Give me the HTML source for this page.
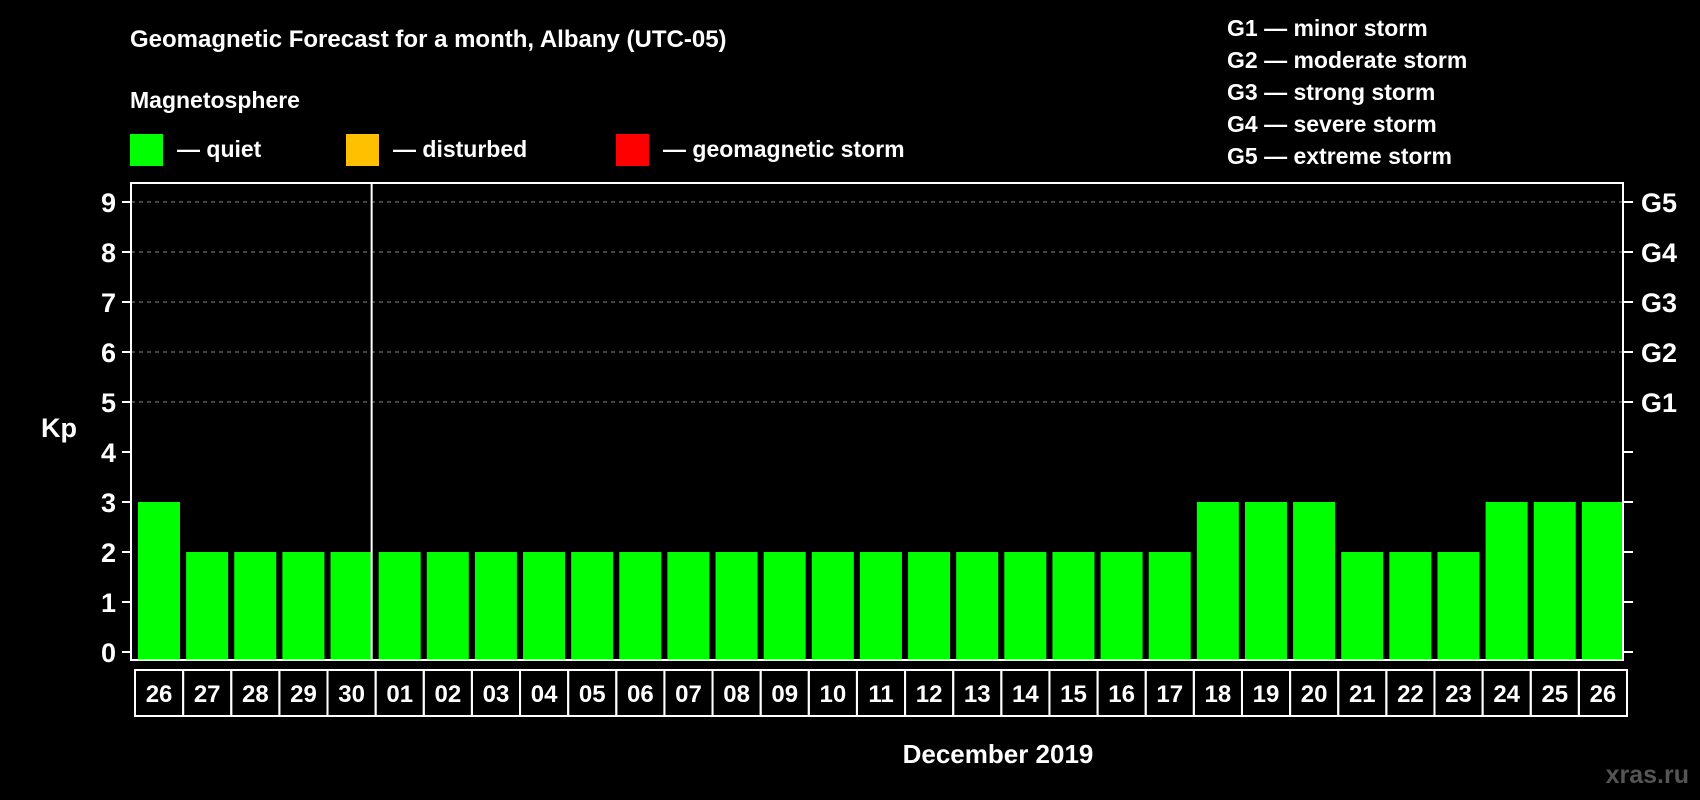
<!DOCTYPE html>
<html><head><meta charset="utf-8"><style>
html,body{margin:0;padding:0;background:#000;width:1700px;height:800px;overflow:hidden}
svg{display:block;font-family:"Liberation Sans",Arial,sans-serif;font-weight:bold}
</style></head><body>
<svg id="chart" width="1700" height="800" viewBox="0 0 1700 800" xmlns="http://www.w3.org/2000/svg">
<rect width="1700" height="800" fill="#000"/>
<text x="130" y="47" fill="#fff" font-size="24">Geomagnetic Forecast for a month, Albany (UTC-05)</text>
<text x="130" y="108" fill="#fff" font-size="23">Magnetosphere</text>
<rect x="130" y="134" width="33" height="32" fill="#00ff00"/>
<text x="177" y="157" fill="#fff" font-size="23">— quiet</text>
<rect x="346" y="134" width="33" height="32" fill="#ffc000"/>
<text x="393" y="157" fill="#fff" font-size="23">— disturbed</text>
<rect x="616" y="134" width="33" height="32" fill="#ff0000"/>
<text x="663" y="157" fill="#fff" font-size="23">— geomagnetic storm</text>
<g fill="#fff" font-size="23">
<text x="1227" y="36">G1 — minor storm</text>
<text x="1227" y="68">G2 — moderate storm</text>
<text x="1227" y="100">G3 — strong storm</text>
<text x="1227" y="132">G4 — severe storm</text>
<text x="1227" y="164">G5 — extreme storm</text>
</g>
<text x="41" y="437" fill="#fff" font-size="27">Kp</text>
<text x="998" y="763" fill="#fff" font-size="26" text-anchor="middle">December 2019</text>
<text x="1689" y="783" fill="#555" font-size="25" text-anchor="end">xras.ru</text>
<g id="grid"></g><g id="bars"></g><g id="labels"></g>
<rect x="131" y="183" width="1492" height="477" fill="none" stroke="#fff" stroke-width="2"/>
<g id="axes"></g>
</svg>
<script>
const days = ["26","27","28","29","30","01","02","03","04","05","06","07","08","09","10","11","12","13","14","15","16","17","18","19","20","21","22","23","24","25","26"];
const kpValues = [3,2,2,2,2,2,2,2,2,2,2,2,2,2,2,2,2,2,2,2,2,2,3,3,3,2,2,2,3,3,3];
const yTicks = [0,1,2,3,4,5,6,7,8,9];
const gLabels = ["G1","G2","G3","G4","G5"];
const gLevels = [5,6,7,8,9];

const NS="http://www.w3.org/2000/svg";
const L=131,R=1623,Y0=652,U=50;
const slot=(R-L)/days.length;
const y=v=>Y0-v*U;
const x=i=>L+i*slot;
function mk(tag,attrs,parent,txt){const e=document.createElementNS(NS,tag);for(const k in attrs)e.setAttribute(k,attrs[k]);if(txt!==undefined)e.textContent=txt;document.getElementById(parent).appendChild(e);return e;}
const colorFor=v=>v>=5?"#ff0000":(v>=4?"#ffc000":"#00ff00");

yTicks.forEach(t=>{
  if(t>=5){const g=mk("line",{x1:L,x2:R,y1:y(t),y2:y(t),stroke:"#888","stroke-dasharray":"4,4","stroke-width":1},"grid");
  
  }
  const tl=mk("line",{x1:L-9,x2:L,y1:y(t),y2:y(t),stroke:"#fff","stroke-width":2},"axes");
  
  
  const tr=mk("line",{x1:R,x2:R+10,y1:y(t),y2:y(t),stroke:"#fff","stroke-width":2},"axes");
  
  
  const lb=mk("text",{x:116,y:y(t)+10,fill:"#fff","font-size":27,"text-anchor":"end"},"axes",String(t));
  
  
});
gLabels.forEach((g,i)=>{
  const t=mk("text",{x:1641,y:y(gLevels[i])+10,fill:"#fff","font-size":27},"axes",g);
  
  
});
const sep=mk("line",{x1:x(5),x2:x(5),y1:183,y2:660,stroke:"#fff","stroke-width":2},"axes");



kpValues.forEach((v,i)=>{
  const b=mk("rect",{x:x(i)+7,y:y(v),width:42,height:Y0+8-y(v),fill:colorFor(v)},"bars");
  
  
  const c=mk("rect",{x:x(i)+4,y:670,width:slot,height:46,fill:"none",stroke:"#fff","stroke-width":2},"labels");
  
  
  const t=mk("text",{x:x(i)+4+slot/2,y:702,fill:"#fff","font-size":24,"text-anchor":"middle"},"labels",days[i]);
  
  
});
</script>
</body></html>
